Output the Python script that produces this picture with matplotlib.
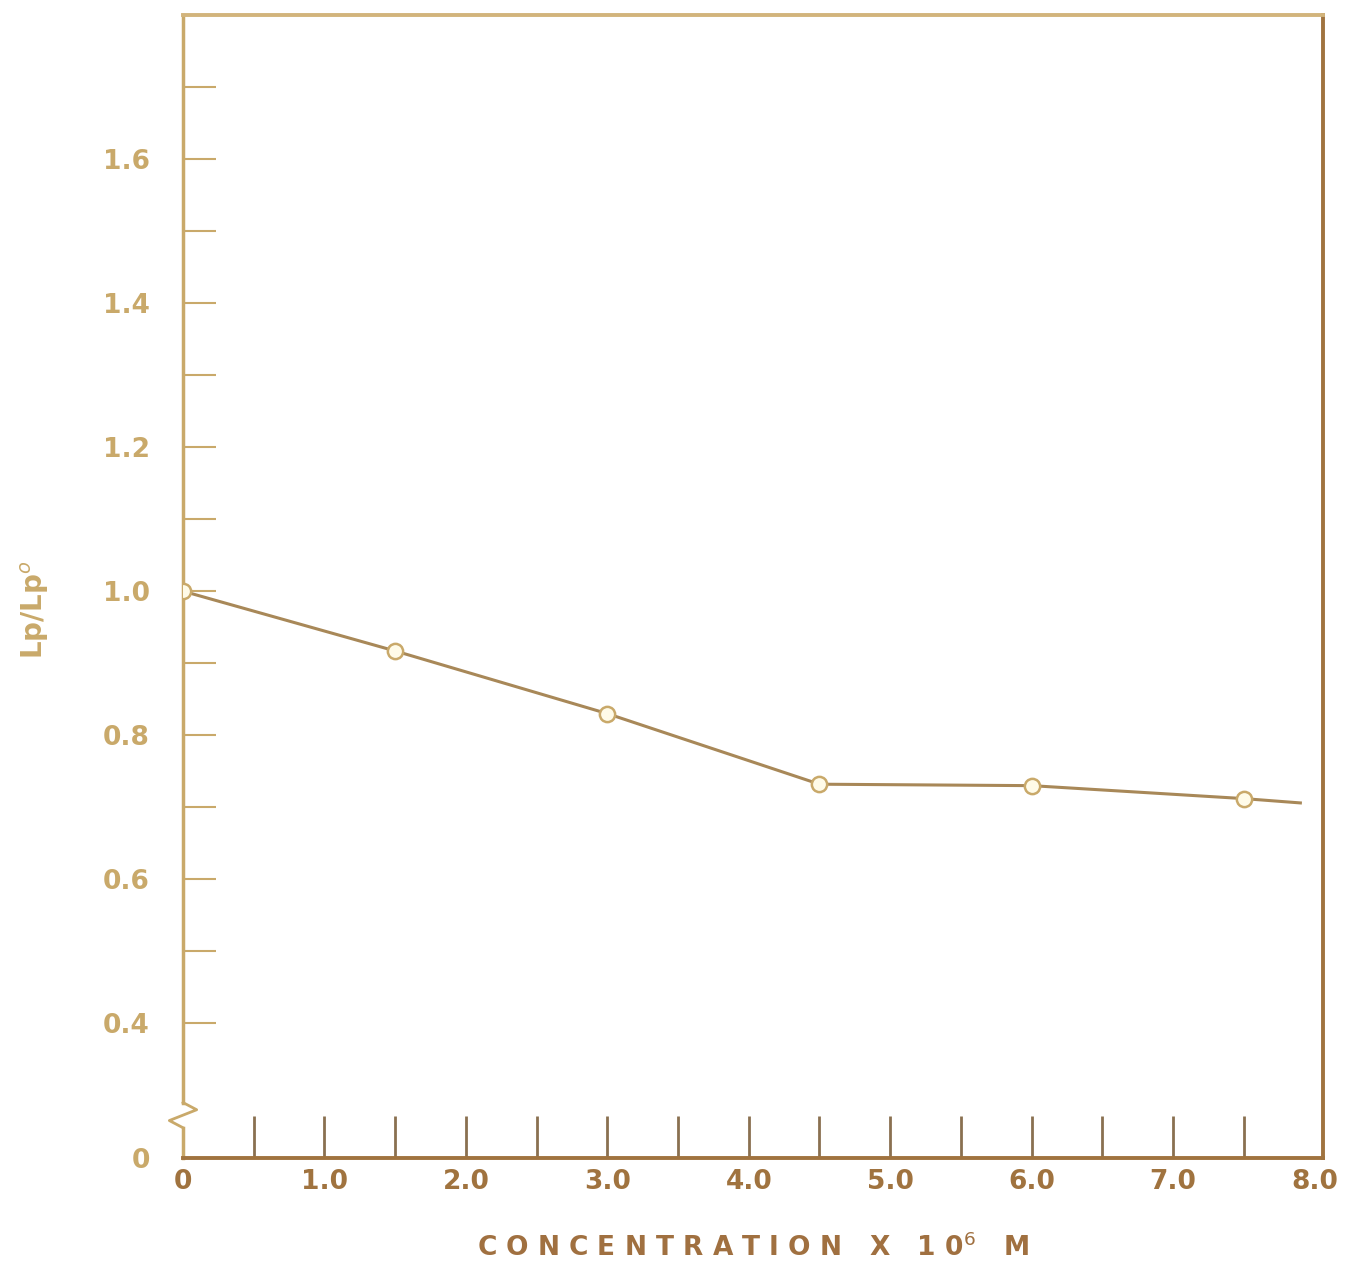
import matplotlib
matplotlib.use("Agg")
import matplotlib.pyplot as plt

# values
concentration = [0.0, 1.5, 3.0, 4.5, 6.0, 7.5]
lp_ratio = [1.0, 0.917, 0.83, 0.732, 0.73, 0.712]
line_end_x = 7.9
line_end_y = 0.706

y_major = [0.4, 0.6, 0.8, 1.0, 1.2, 1.4, 1.6]
y_labels = ["0.4", "0.6", "0.8", "1.0", "1.2", "1.4", "1.6"]
y_minor = [0.5, 0.7, 0.9, 1.1, 1.3, 1.5, 1.7]
x_major = [0, 1, 2, 3, 4, 5, 6, 7, 8]
x_labels = ["0", "1.0", "2.0", "3.0", "4.0", "5.0", "6.0", "7.0", "8.0"]
x_ticks = [0.5, 1.0, 1.5, 2.0, 2.5, 3.0, 3.5, 4.0, 4.5, 5.0, 5.5, 6.0, 6.5, 7.0, 7.5]

ink = "#a0733f"
pale = "#c9a96a"
line_col = "#a88858"

fig = plt.figure(figsize=(13.49, 12.62), dpi=100)
ax = fig.add_axes([183 / 1349, 1 - 1158 / 1262, (1323 - 183) / 1349, (1158 - 15) / 1262])

ymin, ymax = 0.213, 1.80
ax.set_xlim(0, 8.06)
ax.set_ylim(ymin, ymax)

ax.plot(concentration + [line_end_x], lp_ratio + [line_end_y], color=line_col, lw=2.2, zorder=2)
ax.plot(concentration, lp_ratio, ls="none", marker="o", ms=11, mfc="#fffbe8",
        mec=pale, mew=1.8, zorder=3)

for side in ["top", "right", "bottom"]:
    ax.spines[side].set_color(ink)
    ax.spines[side].set_linewidth(2.8)
ax.spines["top"].set_color("#d2b47c")
ax.spines["left"].set_visible(False)
# left axis drawn with a break near the bottom
yt = ax.get_yaxis_transform()
ax.plot([0, 0], [0.29, ymax], color=pale, lw=2.5, transform=yt, clip_on=False)
ax.plot([0, 0], [ymin, 0.255], color=pale, lw=2.5, transform=yt, clip_on=False)
ax.plot([0.0, -0.012, 0.012, 0.0], [0.255, 0.265, 0.28, 0.29], color=pale, lw=2,
        transform=yt, clip_on=False)

ax.set_yticks([ymin] + y_major)
ax.set_yticklabels(["0"] + y_labels)
ax.set_yticks(y_minor, minor=True)
ax.tick_params(axis="y", which="both", direction="in", length=24, width=1.5, color=pale,
               labelcolor=pale, labelsize=19, pad=24)

ax.set_xticks(x_major)
ax.set_xticklabels(x_labels)
ax.tick_params(axis="x", which="major", direction="in", length=0, labelcolor=ink,
               labelsize=19, pad=8)
ax.set_xticks(x_ticks, minor=True)
ax.xaxis.set_minor_locator(matplotlib.ticker.FixedLocator(x_ticks))
ax.xaxis.remove_overlapping_locs = False
ax.tick_params(axis="x", which="minor", direction="in", length=30, width=2, color="#8a7050")

for lab in ax.get_xticklabels() + ax.get_yticklabels():
    lab.set_fontweight("bold")

ax.set_xlabel("C O N C E N T R A T I O N   X   1 0$^{6}$   M", fontsize=19, fontweight="bold",
              color="#a07040", labelpad=28)
fig.text(35 / 1349, 1 - 610 / 1262, "Lp/Lp$^{o}$", rotation=90, fontsize=20,
         fontweight="bold", color=pale, ha="center", va="center")

fig.savefig("out.png", dpi=100, facecolor="white")
